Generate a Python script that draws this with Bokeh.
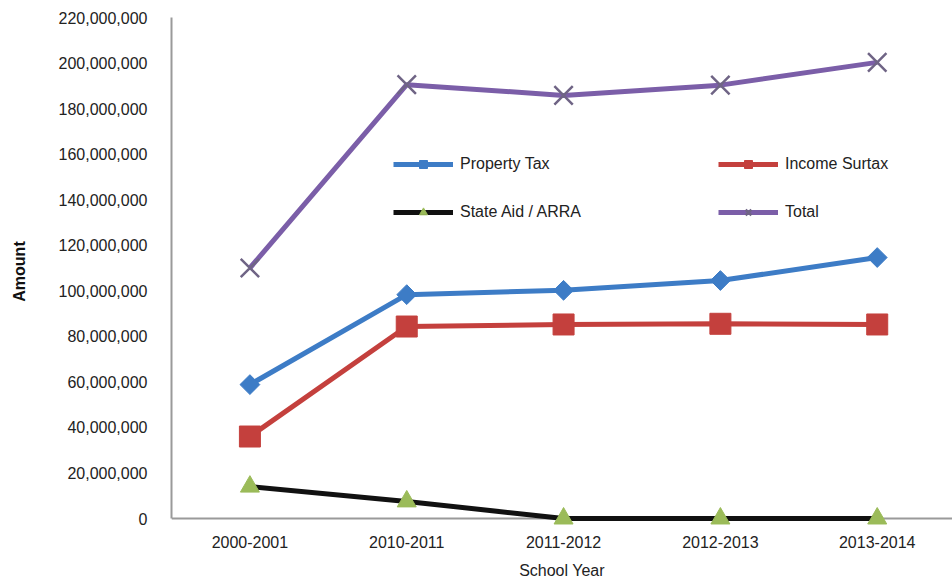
import numpy as np
from bokeh.plotting import figure
from bokeh.models import (Range1d, FixedTicker, NumeralTickFormatter, Legend, LegendItem,
                          ColumnDataSource, Span)
from bokeh.embed import file_html
from bokeh.resources import INLINE

categories = ["2000-2001", "2010-2011", "2011-2012", "2012-2013", "2013-2014"]
property_tax = [58_800_000, 98_300_000, 100_200_000, 104_500_000, 114_600_000]
income_surtax = [36_000_000, 84_300_000, 85_200_000, 85_500_000, 85_200_000]
state_aid = [14_000_000, 7_500_000, 0, 0, 0]
total = [110_000_000, 190_500_000, 185_800_000, 190_300_000, 200_300_000]
y_ticks = list(range(0, 220_000_001, 20_000_000))

FONT = "Liberation Sans"
xs = list(range(len(categories)))

Y_MAX = 220_000_000
# small headroom below zero so markers sitting on the baseline are not clipped
Y_MIN = -Y_MAX * 7 / 501

p = figure(width=952, height=581, output_backend="svg", toolbar_location=None,
           x_range=Range1d(-0.5, 4.48), y_range=Range1d(Y_MIN, Y_MAX),
           min_border_left=171, min_border_right=0, min_border_top=17, min_border_bottom=56)
p.outline_line_color = None
p.xgrid.visible = False
p.ygrid.visible = False
p.background_fill_color = "white"
p.border_fill_color = "white"

# baseline (x axis line) at zero
p.add_layout(Span(location=0, dimension="width", line_color="#9A9A9A",
                  line_width=2, level="underlay"))

series = [
    ("Property Tax", property_tax, "#3D7CC6", "square", 14, np.pi / 4, "#3D7CC6", "#3D7CC6", 1),
    ("Income Surtax", income_surtax, "#C4403D", "square", 21, 0.0, "#C4403D", "#C4403D", 1),
    ("State Aid / ARRA", state_aid, "#111111", "triangle", 19, 0.0, "#9BBB59", "#9BBB59", 1),
    ("Total", total, "#7B5EA8", "x", 26, 0.0, None, "#6F6485", 2.5),
]

items = {}
for name, vals, lc, marker, size, ang, fc, mlc, mlw in series:
    src = ColumnDataSource(dict(x=xs, y=vals))
    lr = p.line("x", "y", source=src, line_color=lc, line_width=5)
    sr = p.scatter("x", "y", source=src, marker=marker, size=size, angle=ang,
                   fill_color=fc, line_color=mlc, line_width=mlw)
    items[name] = LegendItem(label=name, renderers=[lr, sr])

order = ["Property Tax", "State Aid / ARRA", "Income Surtax", "Total"]
legend = Legend(items=[items[n] for n in order], ncols=2, location=(222, 303),
                glyph_width=60, glyph_height=20, label_standoff=7,
                label_width=230, label_height=20, spacing=28,
                padding=0, margin=0, border_line_color=None,
                background_fill_alpha=0,
                label_text_font=FONT, label_text_font_size="16px",
                label_text_color="#222222")
p.add_layout(legend, "center")

# y axis
yax = p.yaxis[0]
yax.ticker = FixedTicker(ticks=y_ticks)
yax.bounds = (0, Y_MAX)
yax.formatter = NumeralTickFormatter(format="0,0")
yax.major_label_text_font = FONT
yax.major_label_text_font_size = "16px"
yax.major_label_text_color = "#222222"
yax.major_tick_line_color = None
yax.minor_tick_line_color = None
yax.major_label_standoff = 18
yax.axis_line_color = "#9A9A9A"
yax.axis_line_width = 2
yax.axis_label = "Amount"
yax.axis_label_text_font = FONT
yax.axis_label_text_font_size = "16px"
yax.axis_label_text_font_style = "bold"
yax.axis_label_text_color = "#111111"
yax.axis_label_standoff = 28

# x axis
xax = p.xaxis[0]
xax.ticker = FixedTicker(ticks=xs)
xax.major_label_overrides = {i: c for i, c in zip(xs, categories)}
xax.major_label_text_font = FONT
xax.major_label_text_font_size = "16px"
xax.major_label_text_color = "#222222"
xax.major_tick_line_color = None
xax.minor_tick_line_color = None
xax.major_label_standoff = 4
xax.axis_line_color = None
xax.axis_label = "School Year"
xax.axis_label_text_font = FONT
xax.axis_label_text_font_size = "16px"
xax.axis_label_text_font_style = "normal"
xax.axis_label_text_color = "#222222"
xax.axis_label_standoff = 11

open("out.html", "w").write(file_html(p, INLINE))
